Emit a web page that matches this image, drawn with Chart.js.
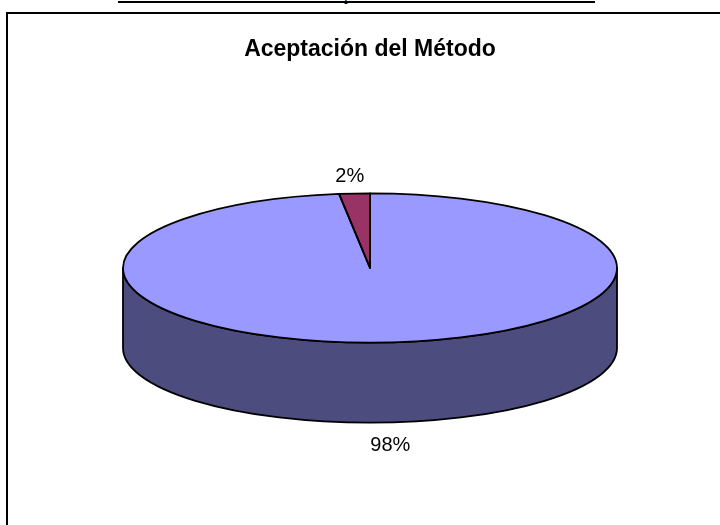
<!DOCTYPE html>
<html>
<head>
<meta charset="utf-8">
<title>Aceptación del Método</title>
<script src="https://cdn.jsdelivr.net/npm/chart.js@4.4.1/dist/chart.umd.min.js"></script>
<style>
  html, body { margin: 0; padding: 0; background: #fff; overflow: hidden; }
  #page { position: relative; width: 720px; height: 525px; overflow: hidden; }
  #rule { position: absolute; left: 118px; top: 1px; width: 477px; height: 2px; background: #000; }
  #frag { position: absolute; left: 344px; top: -13px; font: 16px/16px "Liberation Serif", serif; color: #000; }
  #frame { position: absolute; left: 6px; top: 12px; width: 760px; height: 560px; border: 2px solid #000; }
  #wrap { position: absolute; left: 0; top: 0; width: 720px; height: 525px; }
</style>
</head>
<body>
<div id="page">
  <div id="rule"></div>
  <div id="frag">p</div>
  <div id="frame"></div>
  <div id="wrap"><canvas id="pieChart"></canvas></div>
</div>
<script>
// chart data
const categories = ['Acepta', 'No acepta'];
const percentValues = [98, 2];
const chartTitle = 'Aceptación del Método';

// colours: top face and side (extrusion) of each slice
const sliceColors = ['#9999ff', '#993366'];
const sideColors = ['#4c4c7e', '#4d1a33'];

const tilt = 0.3025;  // flattening of the pie (ry / rx)
const depth = 80;     // height of the pie side, px
const edgeWidth = 1.8;

function flatten(ctx, x, y) {
    ctx.translate(x, y);
    ctx.scale(1, tilt);
    ctx.translate(-x, -y);
}

function arcProps(arc) {
    return arc.getProps(['x', 'y', 'startAngle', 'endAngle', 'outerRadius'], true);
}

const pie3d = {
    id: 'pie3d',
    beforeDatasetsDraw(chart) {
        const ctx = chart.ctx;
        const arcs = chart.getDatasetMeta(0).data;

        // side of the pie, only the part facing the viewer (angles 0..PI)
        arcs.forEach((arc, i) => {
            const p = arcProps(arc);
            for (let k = -1; k <= 1; k++) {
                const lo = Math.max(p.startAngle, 2 * Math.PI * k);
                const hi = Math.min(p.endAngle, 2 * Math.PI * k + Math.PI);
                if (hi <= lo) continue;
                ctx.save();
                flatten(ctx, p.x, p.y);
                ctx.beginPath();
                ctx.arc(p.x, p.y, p.outerRadius, lo, hi);
                ctx.arc(p.x, p.y + depth / tilt, p.outerRadius, hi, lo, true);
                ctx.closePath();
                ctx.restore();
                ctx.fillStyle = sideColors[i];
                ctx.fill();
                ctx.lineWidth = edgeWidth;
                ctx.lineJoin = 'round';
                ctx.strokeStyle = '#000';
                ctx.stroke();
            }
        });

        // top face drawn by the library, squashed
        const c = arcProps(arcs[0]);
        ctx.save();
        flatten(ctx, c.x, c.y);
    },
    afterDatasetsDraw(chart) {
        const ctx = chart.ctx;
        ctx.restore();
        const arcs = chart.getDatasetMeta(0).data;
        const total = percentValues.reduce((a, b) => a + b, 0);

        arcs.forEach((arc, i) => {
            const p = arcProps(arc);
            // outline of the top face
            ctx.save();
            flatten(ctx, p.x, p.y);
            ctx.beginPath();
            ctx.moveTo(p.x, p.y);
            ctx.arc(p.x, p.y, p.outerRadius, p.startAngle, p.endAngle);
            ctx.closePath();
            ctx.restore();
            ctx.lineWidth = edgeWidth;
            ctx.lineJoin = 'round';
            ctx.strokeStyle = '#000';
            ctx.stroke();

            // percentage label outside the slice
            const mid = (p.startAngle + p.endAngle) / 2;
            const cos = Math.cos(mid), sin = Math.sin(mid);
            const lx = p.x + cos * (p.outerRadius + 76);
            let ly = p.y + sin * (p.outerRadius * tilt + 18);
            if (sin > 0) ly += depth + 4;
            ctx.font = '20px "Liberation Sans", Arial, sans-serif';
            ctx.fillStyle = '#000';
            ctx.textAlign = 'center';
            ctx.textBaseline = 'middle';
            ctx.fillText(Math.round(percentValues[i] / total * 100) + '%', lx, ly + 1);
        });
    }
};

new Chart(document.getElementById('pieChart'), {
    type: 'pie',
    data: {
        labels: categories,
        datasets: [{
            data: percentValues,
            backgroundColor: sliceColors,
            borderWidth: 0,
            clip: false
        }]
    },
    options: {
        responsive: true,
        maintainAspectRatio: false,
        animation: false,
        events: [],
        radius: 247,
        layout: { padding: { left: 20, right: 0, top: 0, bottom: 62.6 } },
        plugins: {
            legend: { display: false },
            tooltip: { enabled: false },
            title: {
                display: true,
                text: chartTitle,
                color: '#000',
                font: { family: '"Liberation Sans", Arial, sans-serif', size: 23, weight: 'bold', lineHeight: 1.2 },
                padding: { top: 36, bottom: 10 }
            }
        }
    },
    plugins: [pie3d]
});
</script>
</body>
</html>
